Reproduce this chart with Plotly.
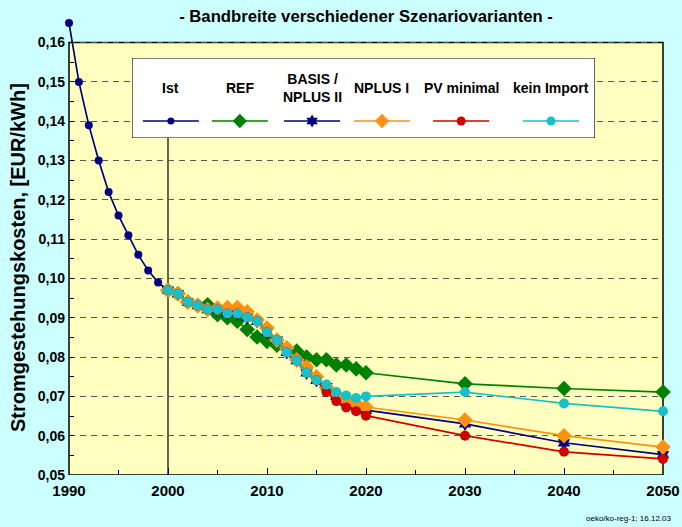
import plotly.graph_objects as go

# historical values 1990-2000
years_ist = [1990, 1991, 1992, 1993, 1994, 1995, 1996, 1997, 1998, 1999, 2000]
cost_ist = [0.165, 0.150, 0.139, 0.130, 0.122, 0.116, 0.111, 0.106, 0.102, 0.099, 0.097]

# scenario years
years_szen = list(range(2000, 2021)) + [2030, 2040, 2050]

cost_ref = [0.0970, 0.0961, 0.0940, 0.0931, 0.0933, 0.0908, 0.0900, 0.0891, 0.0870, 0.0851,
            0.0840, 0.0830, 0.0822, 0.0815, 0.0800, 0.0793, 0.0793, 0.0780, 0.0780, 0.0770,
            0.0760, 0.0732, 0.0720, 0.0711]
cost_basis = [0.0970, 0.0961, 0.0940, 0.0931, 0.0921, 0.0921, 0.0911, 0.0911, 0.0901, 0.0891,
              0.0863, 0.0843, 0.0812, 0.0791, 0.0760, 0.0741, 0.0725, 0.0700, 0.0685, 0.0675,
              0.0665, 0.0630, 0.0582, 0.0552]
cost_nplus1 = [0.0970, 0.0961, 0.0940, 0.0931, 0.0921, 0.0925, 0.0926, 0.0926, 0.0915, 0.0894,
               0.0874, 0.0843, 0.0823, 0.0793, 0.0775, 0.0750, 0.0724, 0.0704, 0.0692, 0.0682,
               0.0673, 0.0640, 0.0600, 0.0571]
cost_pvmin = [0.0970, 0.0961, 0.0940, 0.0931, 0.0921, 0.0921, 0.0911, 0.0911, 0.0901, 0.0891,
              0.0863, 0.0843, 0.0812, 0.0791, 0.0760, 0.0741, 0.0711, 0.0688, 0.0672, 0.0662,
              0.0651, 0.0600, 0.0559, 0.0541]
cost_kein = [0.0970, 0.0961, 0.0940, 0.0931, 0.0921, 0.0921, 0.0911, 0.0911, 0.0901, 0.0891,
             0.0863, 0.0843, 0.0812, 0.0791, 0.0760, 0.0741, 0.0730, 0.0711, 0.0702, 0.0696,
             0.0700, 0.0711, 0.0682, 0.0662]

legend_names = ["Ist", "REF", "BASIS /<br>NPLUS II", "NPLUS I", "PV minimal", "kein Import"]

NAVY = "#000080"
GREEN = "#008000"
ORANGE = "#FF9010"
RED = "#D00000"
CYAN = "#18C0C8"

# name, x, y, color, symbol, size  (drawing order = legend order)
series = [
    ("Ist", years_ist, cost_ist, NAVY, "circle", 8),
    ("REF", years_szen, cost_ref, GREEN, "diamond", 12),
    ("BASIS / NPLUS II", years_szen, cost_basis, NAVY, "hexagram", 11),
    ("NPLUS I", years_szen, cost_nplus1, ORANGE, "diamond", 12),
    ("PV minimal", years_szen, cost_pvmin, RED, "circle", 10),
    ("kein Import", years_szen, cost_kein, CYAN, "circle", 10),
]

FONT = "Arial, Liberation Sans, sans-serif"

fig = go.Figure()

for name, x, y, color, symbol, size in series:
    fig.add_trace(go.Scatter(x=x, y=y, mode="lines+markers", name=name,
                             line=dict(color=color, width=1.7),
                             marker=dict(symbol=symbol, size=size, color=color),
                             cliponaxis=False, showlegend=False))

# legend box: small subplot drawn on top of the main plot
leg_x0, leg_x1 = 0.106, 0.8855
leg_y0, leg_y1 = 0.739, 0.9145
leg_cx = [0.084, 0.233, 0.389, 0.540, 0.711, 0.905]
half = 0.0605
sample_y = 0.2125
fig.add_trace(go.Scatter(x=[0, 1, 1, 0, 0], y=[0, 0, 1, 1, 0], mode="lines",
                         fill="toself", fillcolor="white",
                         line=dict(color="black", width=1.2),
                         xaxis="x2", yaxis="y2", showlegend=False, hoverinfo="skip",
                         cliponaxis=False))
for i, (name, x, y, color, symbol, size) in enumerate(series):
    cx = leg_cx[i]
    fig.add_trace(go.Scatter(x=[cx - half, cx + half], y=[sample_y, sample_y],
                             mode="lines", line=dict(color=color, width=1.7),
                             xaxis="x2", yaxis="y2", showlegend=False, hoverinfo="skip"))
    fig.add_trace(go.Scatter(x=[cx], y=[sample_y], mode="markers",
                             marker=dict(symbol=symbol, size=size - 1, color=color),
                             xaxis="x2", yaxis="y2", showlegend=False, hoverinfo="skip"))
    fig.add_annotation(x=cx, y=0.625, xref="x2", yref="y2", text=legend_names[i],
                       showarrow=False, font=dict(size=14, color="black", weight="bold"))

shapes = [
    # plot area background
    dict(type="rect", xref="x domain", yref="y", x0=0, x1=1, y0=0.05, y1=0.16,
         fillcolor="#FFFFC0", line=dict(width=0), layer="below"),
    # vertical line at 2000
    dict(type="line", xref="x", yref="y domain", x0=2000, x1=2000, y0=0, y1=leg_y0,
         line=dict(color="black", width=1.2), layer="below"),
    # frame
    dict(type="rect", xref="x domain", yref="y", x0=0, x1=1, y0=0.05, y1=0.16,
         line=dict(color="black", width=1.5), layer="below"),
]

fig.update_layout(
    width=682, height=527,
    margin=dict(l=69, r=19, t=19, b=52),
    paper_bgcolor="#CCFFFF",
    plot_bgcolor="rgba(0,0,0,0)",
    separators=",.",
    font=dict(family=FONT, color="black"),
    shapes=shapes,
    title=dict(text="- Bandbreite verschiedener Szenariovarianten -",
               x=366 / 682, xref="container", xanchor="center",
               y=1 - 16 / 527, yref="container", yanchor="middle",
               font=dict(size=16.7, weight="bold")),
    xaxis=dict(range=[1990, 2050], tickvals=[1990, 2000, 2010, 2020, 2030, 2040, 2050],
               ticks="inside", ticklen=7, tickcolor="black", tickwidth=1.2,
               minor=dict(tickvals=[1995, 2005, 2015, 2025, 2035, 2045], ticks="inside",
                          ticklen=5, tickcolor="black", tickwidth=1.2),
               showgrid=False, zeroline=False, showline=False, automargin=False,
               ticklabelstandoff=5,
               tickfont=dict(size=15, weight="bold")),
    yaxis=dict(range=[0.05, 0.166], tick0=0.05, dtick=0.01, tickformat=".2f",
               ticks="inside", ticklen=5, tickcolor="black", tickwidth=1.2,
               minor=dict(tickvals=[0.055 + 0.01 * k for k in range(11)], ticks="inside",
                          ticklen=5, tickcolor="black", tickwidth=1.2),
               showgrid=True, gridcolor="#585858", gridwidth=1.3, griddash="6px,5px",
               zeroline=False, showline=False, automargin=False,
               ticklabelstandoff=3,
               tickfont=dict(size=14, weight="bold")),
    xaxis2=dict(domain=[leg_x0, leg_x1], range=[0, 1], anchor="y2", visible=False,
                fixedrange=True),
    yaxis2=dict(domain=[leg_y0, leg_y1], range=[0, 1], anchor="x2", visible=False,
                fixedrange=True),
)

# y axis title
fig.add_annotation(x=(18 - 69) / 594, y=(475 - 258) / 456, xref="paper", yref="paper",
                   text="Stromgestehungskosten, [EUR/kWh]", textangle=-90, showarrow=False,
                   xanchor="center", yanchor="middle",
                   font=dict(size=20, weight="bold"))
# footnote
fig.add_annotation(x=(673 - 69) / 594, y=(475 - 518) / 456, xref="paper", yref="paper",
                   text="oeko/ko-reg-1; 16.12.03", showarrow=False,
                   xanchor="right", yanchor="middle", font=dict(size=8))

# no page margin, so the figure sits at the window's top-left corner
fig.write_html("out.html", config={"displayModeBar": False},
               post_script="document.body.style.margin='0px';")
